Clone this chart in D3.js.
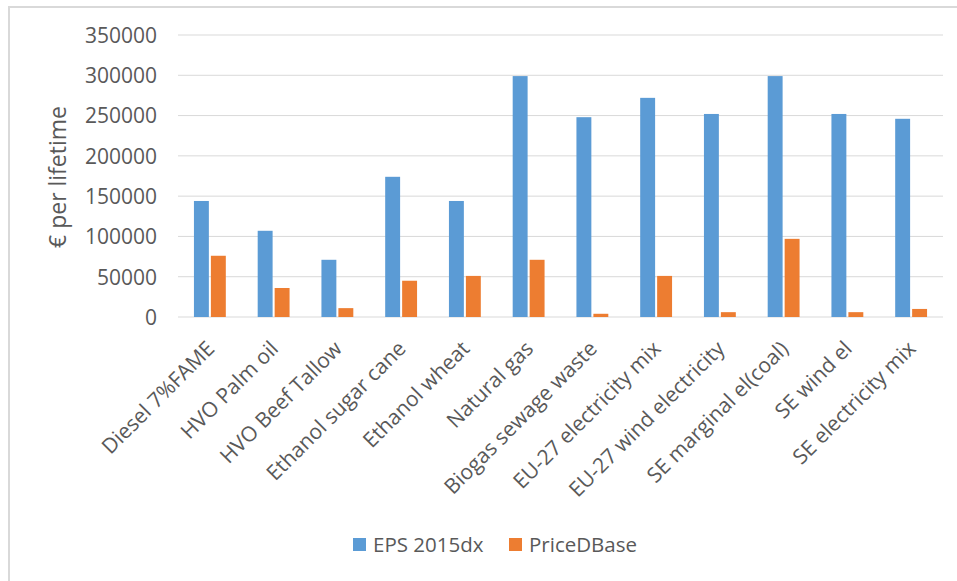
<!DOCTYPE html>
<html>
<head>
<meta charset="utf-8">
<script src="https://cdn.jsdelivr.net/npm/d3@7"></script>
<style>
  html, body { margin: 0; padding: 0; background: #fff; }
  svg { display: block; font-family: "Open Sans", sans-serif; }
</style>
</head>
<body>
<svg id="chart" width="957" height="581"></svg>
<script>
// Lifetime external cost per fuel pathway, two valuation methods
const categories = [
  "Diesel 7%FAME", "HVO Palm oil", "HVO Beef Tallow", "Ethanol sugar cane",
  "Ethanol wheat", "Natural gas", "Biogas sewage waste", "EU-27 electricity mix",
  "EU-27 wind electricity", "SE marginal el(coal)", "SE wind el", "SE electricity mix"
];
const epsValues   = [144000, 107000, 71000, 174000, 144000, 299000, 248000, 272000, 252000, 299000, 252000, 246000];
const priceValues = [76000, 36000, 11000, 45000, 51000, 71000, 4000, 51000, 6000, 97000, 6000, 10000];
const seriesNames = ["EPS 2015dx", "PriceDBase"];
const seriesColors = ["#5b9bd5", "#ed7d31"];
const yTicks = [0, 50000, 100000, 150000, 200000, 250000, 300000, 350000];
const yTitle = "€ per lifetime";

const svg = d3.select("#chart");
const textColor = "#595959";
const gridColor = "#d9d9d9";
const fontFamily = "'Open Sans', sans-serif";

// outer chart frame
svg.append("rect")
  .attr("x", 9).attr("y", 7)
  .attr("width", 1000).attr("height", 1000)
  .attr("fill", "none")
  .attr("stroke", gridColor)
  .attr("stroke-width", 2);

const plot = { left: 178, right: 943, top: 35, bottom: 317 };

const x0 = d3.scaleBand()
  .domain(categories)
  .range([plot.left, plot.right])
  .paddingInner(0.5)
  .paddingOuter(0.25);

const x1 = d3.scaleBand()
  .domain(seriesNames)
  .range([0, x0.bandwidth()])
  .paddingInner(0.12);

const y = d3.scaleLinear()
  .domain([0, 350000])
  .range([plot.bottom, plot.top]);

// gridlines
svg.append("g")
  .selectAll("line")
  .data(yTicks)
  .join("line")
  .attr("x1", plot.left).attr("x2", plot.right)
  .attr("y1", d => y(d)).attr("y2", d => y(d))
  .attr("stroke", gridColor)
  .attr("stroke-width", 1);

// y axis labels
const yAxis = d3.axisLeft(y).tickValues(yTicks).tickSize(0).tickPadding(0)
  .tickFormat(d3.format("d"));
const yg = svg.append("g")
  .attr("transform", `translate(${plot.left - 21},0)`)
  .call(yAxis)
  .attr("font-family", fontFamily);
yg.select(".domain").remove();
yg.selectAll("text")
  .attr("fill", textColor)
  .style("font-size", "21px")
  .attr("dy", "0.35em");

// y axis title
svg.append("text")
  .attr("transform", `translate(66,${(plot.top + plot.bottom) / 2 + 1}) rotate(-90)`)
  .attr("text-anchor", "middle")
  .attr("fill", textColor)
  .style("font-size", "23px")
  .text(yTitle);

// bars
const rows = categories.map((c, i) => ({ cat: c, vals: [epsValues[i], priceValues[i]] }));
const groups = svg.append("g")
  .selectAll("g")
  .data(rows)
  .join("g")
  .attr("transform", d => `translate(${x0(d.cat)},0)`);

groups.selectAll("rect")
  .data(d => d.vals.map((v, k) => ({ key: seriesNames[k], v, k })))
  .join("rect")
  .attr("x", d => x1(d.key))
  .attr("width", x1.bandwidth())
  .attr("y", d => y(d.v))
  .attr("height", d => y(0) - y(d.v))
  .attr("fill", d => seriesColors[d.k]);

// x axis category labels
const xAxis = d3.axisBottom(x0).tickSize(0).tickPadding(0);
const xg = svg.append("g")
  .attr("transform", `translate(0,${plot.bottom})`)
  .call(xAxis)
  .attr("font-family", fontFamily);
xg.select(".domain").remove();
xg.selectAll("text")
  .attr("fill", textColor)
  .style("font-size", "21px")
  .attr("text-anchor", "end")
  .attr("dy", null)
  .attr("y", 0)
  .attr("transform", "translate(6,33) rotate(-45)");

// legend
const legendItems = [
  { name: seriesNames[0], color: seriesColors[0], x: 353 },
  { name: seriesNames[1], color: seriesColors[1], x: 509 }
];
const lg = svg.append("g").selectAll("g")
  .data(legendItems)
  .join("g")
  .attr("transform", d => `translate(${d.x},538)`);
lg.append("rect")
  .attr("width", 13).attr("height", 13)
  .attr("fill", d => d.color);
lg.append("text")
  .attr("x", 20).attr("y", 6.5)
  .attr("dy", "0.35em")
  .attr("fill", textColor)
  .style("font-size", "20.5px")
  .text(d => d.name);
</script>
</body>
</html>
